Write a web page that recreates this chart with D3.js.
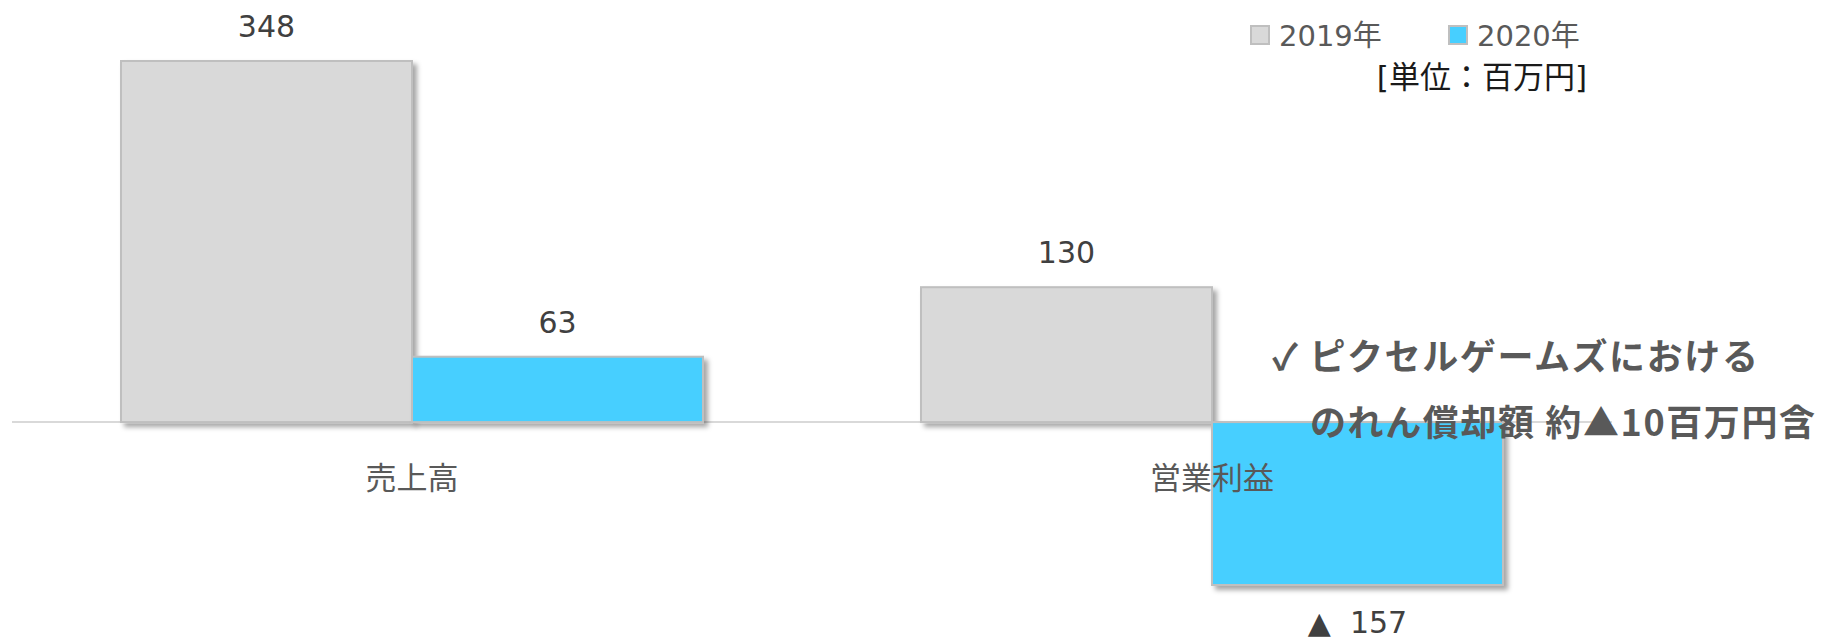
<!DOCTYPE html>
<html>
<head>
<meta charset="utf-8">
<script src="https://cdn.jsdelivr.net/npm/d3@7"></script>
<style>
  body { margin: 0; background: #fff; }
  text { font-family: "DejaVu Sans", "Noto Sans CJK JP", sans-serif; }
</style>
</head>
<body>
<div id="chart"></div>
<script>
// data
var categories = ["売上高", "営業利益"];
var years = ["2019年", "2020年"];
var values2019 = [348, 130];
var values2020 = [63, -157];
var yearColors = ["#D9D9D9", "#47CFFF"];
var unitLabel = "[単位：百万円]";
var noteLines = ["✓ ピクセルゲームズにおける", "のれん償却額 約▲10百万円含"];

var svgWidth = 1823;
var svgHeight = 640;

var svg = d3.select("#chart")
  .append("svg")
  .attr("width", svgWidth)
  .attr("height", svgHeight);

// drop shadow like the office chart
var defs = svg.append("defs");
defs.append("filter")
  .attr("id", "shadow")
  .attr("x", "-10%").attr("y", "-10%")
  .attr("width", "130%").attr("height", "130%")
  .append("feDropShadow")
  .attr("dx", 4)
  .attr("dy", 4)
  .attr("stdDeviation", 2.5)
  .attr("flood-color", "#000")
  .attr("flood-opacity", 0.35);

// build rows
var rows = categories.map(function(c, i) {
  return { category: c, values: [values2019[i], values2020[i]] };
});

// scales
var x0 = d3.scaleBand()
  .domain(categories)
  .range([12, 1612])
  .paddingInner(0.2725)
  .paddingOuter(0.13625);

var x1 = d3.scaleBand()
  .domain(years)
  .range([0, x0.bandwidth()]);

var y = d3.scaleLinear()
  .domain([-157, 348])
  .range([585, 61]);

// zero line
svg.append("line")
  .attr("x1", x0.range()[0])
  .attr("x2", x0.range()[1])
  .attr("y1", y(0))
  .attr("y2", y(0))
  .attr("stroke", "#D9D9D9")
  .attr("stroke-width", 2);

// bars
var groups = svg.selectAll("g.cat")
  .data(rows)
  .enter()
  .append("g")
  .attr("class", "cat")
  .attr("transform", d => `translate(${x0(d.category)}, 0)`);

groups.selectAll("rect")
  .data(d => d.values.map((v, j) => ({ year: years[j], value: v, idx: j })))
  .enter()
  .append("rect")
  .attr("x", d => x1(d.year))
  .attr("y", d => y(Math.max(0, d.value)))
  .attr("width", x1.bandwidth())
  .attr("height", d => Math.abs(y(d.value) - y(0)))
  .attr("fill", d => yearColors[d.idx])
  .attr("stroke", "#BFBFBF")
  .attr("stroke-width", 2)
  .attr("filter", "url(#shadow)");

// value labels
groups.selectAll("text.val")
  .data(d => d.values.map((v, j) => ({ year: years[j], value: v })))
  .enter()
  .append("text")
  .attr("class", "val")
  .attr("x", d => x1(d.year) + x1.bandwidth() / 2)
  .attr("y", d => d.value >= 0 ? y(d.value) - 24 : y(d.value) + 48)
  .attr("text-anchor", "middle")
  .attr("font-size", "30px")
  .attr("fill", "#404040")
  .text(d => d.value >= 0 ? d.value : "▲\u00A0 " + Math.abs(d.value));

// category labels
svg.selectAll("text.cat")
  .data(categories)
  .enter()
  .append("text")
  .attr("class", "cat")
  .attr("x", d => x0(d) + x0.bandwidth() / 2)
  .attr("y", 489)
  .attr("text-anchor", "middle")
  .attr("font-size", "31px")
  .attr("fill", "#595959")
  .text(d => d);

// legend
var legend = svg.selectAll("g.legend")
  .data(years)
  .enter()
  .append("g")
  .attr("class", "legend")
  .attr("transform", (d, i) => `translate(${1251 + i * 198}, 0)`);

legend.append("rect")
  .attr("x", 0)
  .attr("y", 26)
  .attr("width", 18)
  .attr("height", 18)
  .attr("fill", (d, i) => yearColors[i])
  .attr("stroke", "#BFBFBF")
  .attr("stroke-width", 2);

legend.append("text")
  .attr("x", 28)
  .attr("y", 46)
  .attr("font-size", "29px")
  .attr("fill", "#595959")
  .text(d => d);

svg.append("text")
  .attr("x", 1587)
  .attr("y", 88)
  .attr("text-anchor", "end")
  .attr("font-size", "31px")
  .attr("fill", "#1a1a1a")
  .text(unitLabel);

// note
svg.selectAll("text.note")
  .data(noteLines)
  .enter()
  .append("text")
  .attr("class", "note")
  .attr("x", (d, i) => i === 0 ? 1272 : 1310)
  .attr("y", (d, i) => i === 0 ? 370 : 436)
  .attr("font-size", "36px")
  .attr("font-weight", "bold")
  .attr("letter-spacing", "1.6px")
  .attr("fill", "#595959")
  .style("font-family", "'Noto Sans CJK JP', sans-serif")
  .text(d => d);
</script>
</body>
</html>
